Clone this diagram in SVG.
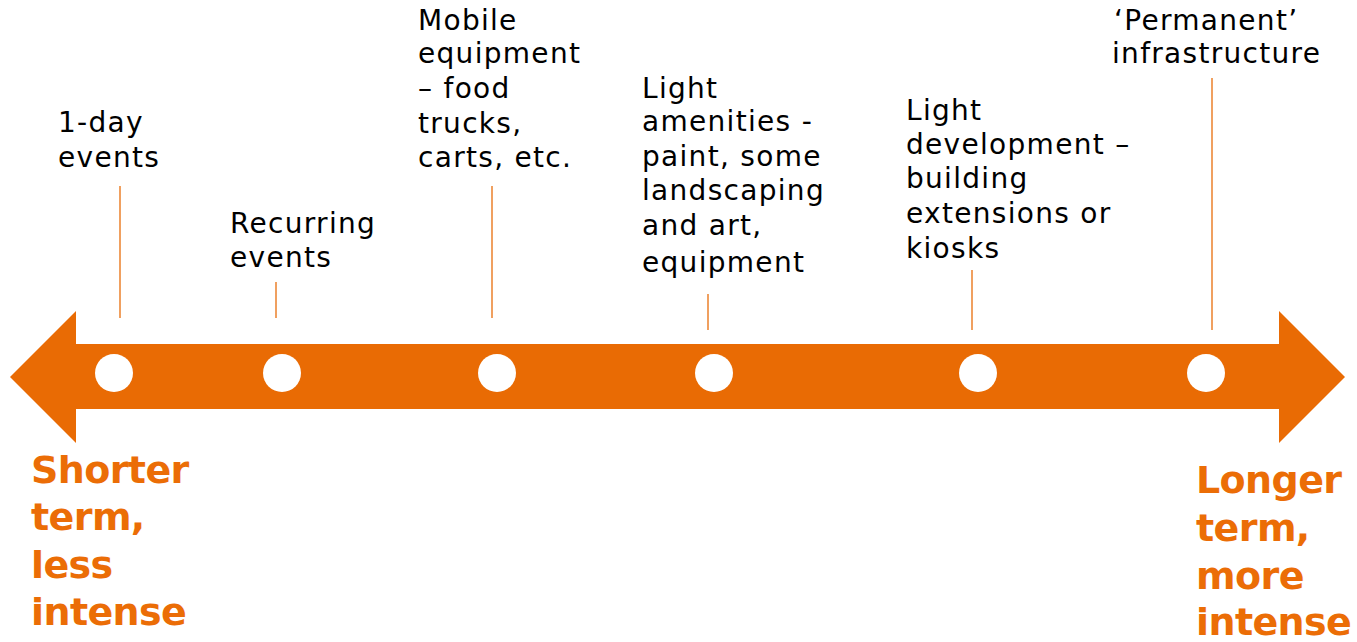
<svg xmlns="http://www.w3.org/2000/svg" width="1357" height="642" viewBox="0 0 1357 642">
<style>
.lbl{font-family:"DejaVu Sans",sans-serif;font-size:28px;letter-spacing:1.3px;fill:#000000}
.end{font-family:"DejaVu Sans",sans-serif;font-weight:bold;font-size:38px;letter-spacing:-0.6px;fill:#EB6D06}
.tick{stroke:#F0A060;stroke-width:2;fill:none}
.dot{fill:#ffffff}
</style>
<rect width="1357" height="642" fill="#ffffff"/>
<g id="arrow">
<polygon points="10,377 76,311 76,344 1279,344 1279,311 1345,377 1279,443 1279,409 76,409 76,443" fill="#E96B04"/>
</g>
<g id="connectors">
<line class="tick" x1="120" y1="186" x2="120" y2="318"/>
<line class="tick" x1="276" y1="282" x2="276" y2="318"/>
<line class="tick" x1="492" y1="186" x2="492" y2="318"/>
<line class="tick" x1="708" y1="294" x2="708" y2="330"/>
<line class="tick" x1="972" y1="270" x2="972" y2="330"/>
<line class="tick" x1="1212" y1="78" x2="1212" y2="330"/>
</g>
<g id="n1">
<circle class="dot" cx="114" cy="373" r="19"/>
<text class="lbl" x="58" y="132">1-day</text>
<text class="lbl" x="58" y="167">events</text>
</g>
<g id="n2">
<circle class="dot" cx="282" cy="373" r="19"/>
<text class="lbl" x="230" y="233">Recurring</text>
<text class="lbl" x="230" y="267">events</text>
</g>
<g id="n3">
<circle class="dot" cx="497" cy="373" r="19"/>
<text class="lbl" x="418" y="30">Mobile</text>
<text class="lbl" x="418" y="63">equipment</text>
<text class="lbl" x="418" y="98">– food</text>
<text class="lbl" x="418" y="133">trucks,</text>
<text class="lbl" x="418" y="167">carts, etc.</text>
</g>
<g id="n4">
<circle class="dot" cx="714" cy="373" r="19"/>
<text class="lbl" x="642" y="98">Light</text>
<text class="lbl" x="642" y="131">amenities -</text>
<text class="lbl" x="642" y="166">paint, some</text>
<text class="lbl" x="642" y="200">landscaping</text>
<text class="lbl" x="642" y="235">and art,</text>
<text class="lbl" x="642" y="272">equipment</text>
</g>
<g id="n5">
<circle class="dot" cx="978" cy="373" r="19"/>
<text class="lbl" x="906" y="120">Light</text>
<text class="lbl" x="906" y="154">development –</text>
<text class="lbl" x="906" y="188">building</text>
<text class="lbl" x="906" y="223">extensions or</text>
<text class="lbl" x="906" y="258">kiosks</text>
</g>
<g id="n6">
<circle class="dot" cx="1206" cy="373" r="19"/>
<text class="lbl" x="1114" y="30">‘Permanent’</text>
<text class="lbl" x="1112" y="63">infrastructure</text>
</g>
<g id="left-label">
<text class="end" x="31" y="483">Shorter</text>
<text class="end" x="31" y="530">term,</text>
<text class="end" x="31" y="578">less</text>
<text class="end" x="31" y="625">intense</text>
</g>
<g id="right-label">
<text class="end" x="1196" y="493">Longer</text>
<text class="end" x="1196" y="541">term,</text>
<text class="end" x="1196" y="589">more</text>
<text class="end" x="1196" y="635">intense</text>
</g>
</svg>
